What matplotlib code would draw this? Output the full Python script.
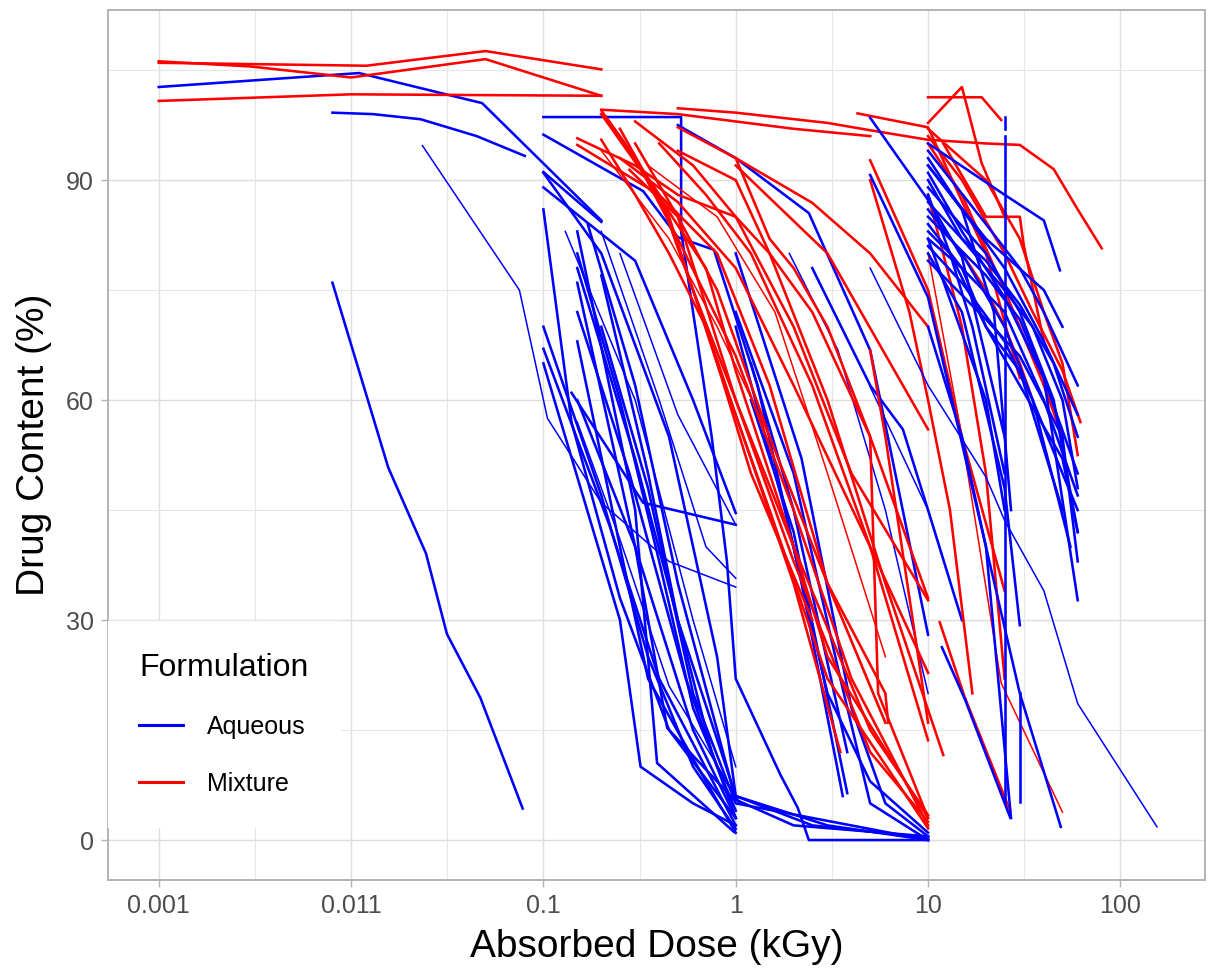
import matplotlib
matplotlib.use("Agg")
import matplotlib.pyplot as plt
from matplotlib.lines import Line2D

# ---- data: one entry per sample series (dose in kGy, drug content in %) ----
formulation = []
dose = []
content = []

def add(form, d, c):
    formulation.append(form)
    dose.append(d)
    content.append(c)

# low-dose studies
add("Aqueous", [0.001, 0.004, 0.011, 0.048, 0.2], [102.7, 103.8, 104.6, 100.5, 84.5])
add("Aqueous", [0.008, 0.013, 0.023, 0.045, 0.08], [99.2, 99.0, 98.3, 96.0, 93.3])
add("Aqueous", [0.0235, 0.075, 0.105, 0.2, 0.45, 1.0], [94.7, 75.0, 57.5, 46.0, 38.0, 34.5])
add("Aqueous", [0.008, 0.0156, 0.0245, 0.0315, 0.047, 0.078], [76.0, 50.8, 39.1, 28.1, 19.4, 4.3])
add("Mixture", [0.001, 0.012, 0.05, 0.2], [106.0, 105.6, 107.6, 105.1])
add("Mixture", [0.001, 0.003, 0.01, 0.05, 0.2], [106.2, 105.5, 104.0, 106.5, 101.5])
add("Mixture", [0.001, 0.01, 0.2], [100.8, 101.7, 101.5])

# aqueous, 0.1 - 1 kGy
add("Aqueous", [0.1, 0.52, 0.52, 0.6, 0.75, 0.9, 1.0, 1.7, 2.1, 2.4, 10], [98.6, 98.6, 83, 72, 55, 38, 22, 9, 4.4, 0, 0])
add("Aqueous", [0.1, 0.33, 0.5, 0.77, 1.3, 2.2, 3.6], [96.2, 88.5, 82.2, 80.5, 62, 35, 6])
add("Aqueous", [0.1, 0.2], [91.1, 84.3])
add("Aqueous", [0.1, 0.3, 0.6, 1.0], [89, 79, 60, 44.6])
add("Aqueous", [0.1, 0.14, 0.25, 0.45, 1.0], [86, 57, 33, 15, 3])
add("Aqueous", [0.1, 0.2, 0.35, 0.6, 1.0], [70, 47, 25, 10, 1.5])
add("Aqueous", [0.1, 0.22, 0.4, 1.0], [67, 43, 22, 2])
add("Aqueous", [0.15, 0.3, 0.39, 0.98], [83, 45, 10.5, 1.1])
add("Aqueous", [0.15, 0.25, 0.4, 0.6, 1.0], [80, 60, 38, 18, 4])
add("Aqueous", [0.15, 0.3, 0.5, 1.0, 2.5, 10], [78, 52, 30, 6, 2, 0.3])
add("Aqueous", [0.15, 0.28, 0.55, 0.8, 1.05], [72, 50, 22, 10, 5])
add("Aqueous", [0.15, 0.3, 0.6, 1.0], [60, 40, 15, 3])
add("Aqueous", [0.15, 0.25, 0.45, 1.0], [57, 41, 21, 6])
add("Aqueous", [0.2, 0.4, 0.7, 1.0], [83, 60, 40, 35.7])
add("Aqueous", [0.25, 0.5, 1.0], [80, 58, 43])
add("Aqueous", [0.14, 0.33, 1.0], [61, 46, 43])
add("Aqueous", [0.17, 0.3, 0.5, 1.0, 2, 10], [84, 62, 35, 5.5, 2, 0.5])
add("Aqueous", [0.2, 0.35, 0.6, 1.0, 10], [70, 48, 20, 5, 0])
add("Aqueous", [0.13, 0.3, 0.6, 1.0], [83, 60, 30, 10])
add("Aqueous", [0.1, 0.2, 0.45, 0.8, 1.0, 3, 10], [91, 80, 55, 25, 6, 2, 0])
add("Aqueous", [0.15, 0.3, 0.44, 0.98], [76, 40, 15.3, 5.5])
add("Aqueous", [0.1, 0.25, 0.32, 0.6, 1.0], [65, 30, 10, 5, 2])
add("Aqueous", [0.15, 0.25, 0.35, 0.7, 1.0], [68, 40, 22, 8, 1])
add("Aqueous", [0.2, 0.35, 0.5, 0.75, 1.0], [77, 50, 30, 12, 3])

# aqueous, 1 - 10 kGy
add("Aqueous", [0.5, 1, 2.4, 5, 7, 10], [97.5, 93, 85.5, 66.8, 48, 28])
add("Aqueous", [1.9, 3.4, 6, 10], [80, 66.8, 45, 20])
add("Aqueous", [1, 2, 3.5, 5, 10], [72, 50, 22, 5, 0])
add("Aqueous", [1.2, 2, 3.8], [60, 42, 6.4])
add("Aqueous", [1.2, 2, 3.8], [65, 45, 12])
add("Aqueous", [1, 2.2, 4, 6, 10], [80, 52, 18, 5, 0.5])
add("Aqueous", [1, 1.8, 3, 5, 10], [70, 45, 20, 8, 1])
add("Aqueous", [5, 10, 12.5], [61.8, 45, 36.8])
add("Aqueous", [2.5, 5, 7.4, 10, 15], [78, 62, 56, 45, 30])

# mixture, 0.15 - 10 kGy
add("Mixture", [0.2, 0.5, 1, 2, 5], [99.6, 99, 98, 97, 96])
add("Mixture", [0.5, 1, 3, 5, 10, 20, 30, 45, 60, 80], [99.8, 99.2, 97.8, 96.8, 95.5, 95, 94.8, 91.5, 86, 80.7])
add("Mixture", [0.2, 0.3, 0.5, 1, 2, 4, 10], [99.5, 93, 82, 66, 45, 22, 2])
add("Mixture", [0.2, 0.35, 0.7, 1.0, 2, 3, 10], [99, 90, 78, 64, 40, 25, 3])
add("Mixture", [0.22, 0.4, 0.6, 1.0, 2, 5, 10], [98, 88, 75, 60, 38, 12, 2.5])
add("Mixture", [0.15, 0.3, 0.5, 1, 1.5, 2.5, 5, 10], [95.7, 92, 88, 85, 80, 72, 55, 33])
add("Mixture", [0.15, 0.4, 0.8, 1.5, 3, 6], [94.8, 88, 80, 62, 35, 16])
add("Mixture", [0.2, 0.3, 0.45, 0.7, 1.0, 2, 3.5], [95.5, 88, 80, 70, 58, 35, 12])
add("Mixture", [0.28, 0.5, 0.8, 1.5, 3, 6, 6.2], [91.4, 85, 75, 55, 35, 20, 16])
add("Mixture", [0.5, 1, 2.5, 5, 10], [97.2, 93, 86.9, 80, 70])
add("Mixture", [1, 3, 10], [92, 80, 56])
add("Mixture", [0.3, 0.6, 1, 2, 4, 10], [98, 92, 85, 70, 50, 32.7])
add("Mixture", [0.25, 0.5, 1, 2, 5, 10], [93, 87, 78, 62, 40, 22.8])
add("Mixture", [0.4, 0.7, 1.2, 2.5, 5, 10], [95, 88, 80, 62, 40, 13.6])
add("Mixture", [0.2, 0.45, 0.8, 1.5, 3, 6], [94, 82, 70, 55, 35, 16])
add("Mixture", [0.25, 0.45, 0.8, 1.5, 3, 10], [97, 85, 65, 45, 22, 1.6])
add("Mixture", [0.3, 0.5, 1, 2, 5, 10], [95, 85, 60, 40, 15, 3.4])
add("Mixture", [0.2, 0.25, 0.4, 0.7, 1.2, 2.5], [99, 96, 88, 70, 50, 30])
add("Mixture", [0.5, 1, 1.5, 3, 6, 12], [94, 90, 80, 60, 35, 11.6])
add("Mixture", [0.35, 0.8, 1.6, 3, 6], [92, 85, 72, 50, 25])
add("Mixture", [1, 1.5, 2, 3, 5, 5.5, 10], [93, 82, 78, 70, 55, 20, 3])

# mixture, 5 - 80 kGy
add("Mixture", [5, 10, 15, 25], [92.7, 75, 55, 34])
add("Mixture", [5, 8, 10, 13, 17], [90, 72, 60, 45, 20])
add("Mixture", [5, 6, 10], [66.8, 55, 16])
add("Mixture", [4.3, 10, 20, 30], [99.1, 97.2, 80, 63])
add("Mixture", [10, 19, 24], [101.3, 101.3, 98.2])
add("Mixture", [10, 15, 19, 25], [97.8, 102.7, 92.3, 85])
add("Mixture", [10, 20, 30, 40, 50, 60], [97, 90, 82, 72, 65, 52.5])
add("Mixture", [10, 15, 25, 35, 50, 62], [96, 90, 80, 72, 64, 57])
add("Mixture", [10, 15, 25, 40, 50], [95, 88, 75, 62, 55])
add("Mixture", [12, 20, 30, 31.5, 40], [95, 85, 85, 81, 68])
add("Mixture", [11.5, 15.5, 26.7], [29.7, 19.5, 4])
add("Mixture", [10, 15, 24, 50], [80, 55, 21.4, 3.8])
add("Mixture", [10, 15, 20, 25], [88, 70, 50, 22])
add("Mixture", [15, 20, 25, 30, 35], [80, 75, 70, 65, 60])

# aqueous, 5 - 155 kGy
add("Aqueous", [5, 10, 15, 25], [98.5, 87.3, 79.5, 55])
add("Aqueous", [5, 10, 20, 27], [90.7, 74, 40, 3])
add("Aqueous", [5, 10, 20, 25, 40, 60, 155], [78, 62, 49.5, 43.6, 34, 18.6, 1.8])
add("Aqueous", [25, 25], [98.6, 97])
add("Aqueous", [25, 25], [96, 5.2])
add("Aqueous", [30, 30], [20, 5.2])
add("Aqueous", [10, 25, 40, 48.5], [95, 88, 84.5, 77.7])
add("Aqueous", [10, 15, 25, 40, 60], [93, 86, 78, 68, 58])
add("Aqueous", [10, 15, 25, 40, 60], [91, 83, 74, 63, 50])
add("Aqueous", [10, 20, 30, 45, 60], [89, 80, 72, 60, 42])
add("Aqueous", [10, 15, 25, 35, 50, 60], [87, 82, 75, 70, 60, 48])
add("Aqueous", [10, 20, 30, 40, 60], [85, 77, 71, 63, 32.7])
add("Aqueous", [10, 13, 20, 30, 50], [83, 80, 70, 64, 45])
add("Aqueous", [10, 15, 25, 35, 55], [81, 76, 68, 60, 40])
add("Aqueous", [10, 15, 20, 30, 45, 60], [90, 82, 79, 73, 65, 55])
add("Aqueous", [10, 20, 30, 40, 60], [94, 84, 78, 72, 62])
add("Aqueous", [10, 15, 25, 30], [80, 72, 48, 29.3])
add("Aqueous", [10, 15, 25, 35, 50, 60], [86, 80, 70, 60, 50, 45])
add("Aqueous", [11.8, 15.6, 26.7], [26.3, 19.1, 3.1])
add("Aqueous", [10, 15, 20, 30, 49], [70, 55, 40, 20, 1.8])
add("Aqueous", [10, 20, 40, 50], [92, 82, 75, 70])
add("Aqueous", [10, 15, 20, 30, 50, 60], [84, 78, 70, 62, 52, 42])
add("Aqueous", [10, 20, 25], [82, 60, 45])
add("Aqueous", [10, 13, 17, 25], [88, 80, 70, 50])
add("Aqueous", [10, 15, 25, 40, 60], [82, 78, 72, 60, 47])
add("Aqueous", [10, 20, 30, 50, 60], [79, 71, 66, 55, 38])
add("Aqueous", [10, 15, 22, 27], [92, 86, 72, 45])

x_ticks = [0.001, 0.01, 0.1, 1, 10, 100]
x_tick_labels = ["0.001", "0.011", "0.1", "1", "10", "100"]
y_ticks = [0, 30, 60, 90]

colors = {"Aqueous": "#0000FF", "Mixture": "#FF0000"}
# series drawn with the thinner stroke
thin = {2, 19, 20, 21, 25, 32, 38, 54, 59, 72, 77}

plt.rcParams["font.family"] = ["Liberation Sans", "DejaVu Sans"]
fig = plt.figure(figsize=(12.22, 9.72), dpi=100)
ax = fig.add_axes([108 / 1222, 92 / 972, 1097 / 1222, 870 / 972])

for i, (f, d, c) in enumerate(zip(formulation, dose, content)):
    ax.plot(d, c, color=colors[f], lw=1.1 if i in thin else 1.85,
            solid_joinstyle="round", zorder=3)

ax.set_xscale("log")
ax.set_xlim(10 ** -3.264, 10 ** 2.44)
ax.set_ylim(-5.45, 113.2)
ax.set_xticks(x_ticks)
ax.set_xticklabels(x_tick_labels)
ax.set_xticks([10 ** (k + 0.5) for k in range(-3, 2)], minor=True)
ax.xaxis.set_minor_formatter(plt.NullFormatter())
ax.set_yticks(y_ticks)
ax.set_yticks([15, 45, 75, 105], minor=True)

ax.grid(True, which="major", color="#DEDEDE", lw=1.0, zorder=0)
ax.grid(True, which="minor", color="#E6E6E6", lw=0.8, zorder=0)
ax.set_axisbelow(True)
for s in ax.spines.values():
    s.set_color("#B3B3B3")
    s.set_linewidth(1.4)
ax.tick_params(which="major", length=5, width=1.0, color="#B3B3B3",
               labelsize=18, labelcolor="#4D4D4D", pad=5)
ax.tick_params(which="minor", length=0)

ax.set_xlabel("Absorbed Dose (kGy)", fontsize=28, labelpad=8)
ax.set_ylabel("Drug Content (%)", fontsize=28, labelpad=10)

handles = [Line2D([], [], color=colors[k], lw=2.2) for k in ["Aqueous", "Mixture"]]
leg = ax.legend(handles, ["Aqueous", "Mixture"], title="Formulation",
                loc="lower left", bbox_to_anchor=(0.0, 0.061), fontsize=18,
                title_fontsize=23, frameon=True, fancybox=False,
                handlelength=1.75, handletextpad=0.95, labelspacing=1.3,
                borderpad=1.25, borderaxespad=0)
leg.get_frame().set_edgecolor("white")
leg.get_frame().set_facecolor("white")
leg.get_frame().set_alpha(1)
leg._legend_box.align = "left"
leg.set_zorder(5)

fig.savefig("out.png", dpi=100, facecolor="white")
